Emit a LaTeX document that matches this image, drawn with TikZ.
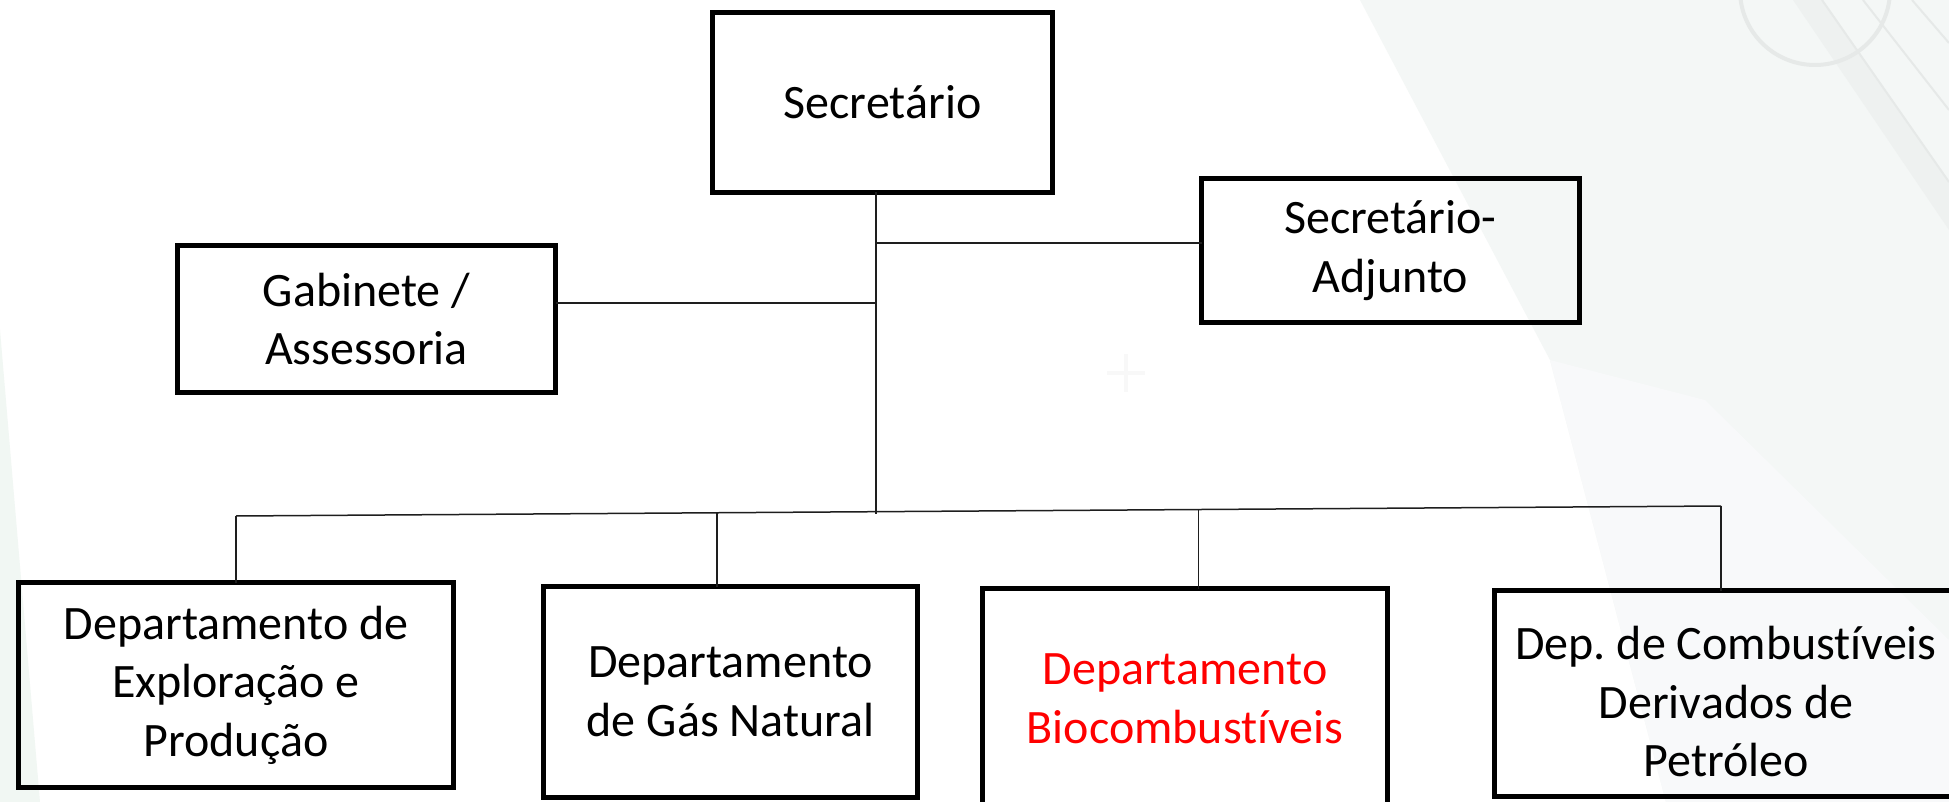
\documentclass[tikz,border=0pt]{standalone}
\usepackage{fontspec}
\setmainfont[Ligatures={NoCommon,NoContextual}]{Carlito}
\usetikzlibrary{calc}
\definecolor{tintA}{HTML}{F4F7F6}
\definecolor{tintB}{HTML}{F8F9FA}
\definecolor{tintG}{HTML}{F1F7F3}
\definecolor{decoline}{HTML}{E6E9E8}
\definecolor{band}{HTML}{EEF1F0}
\definecolor{plusc}{HTML}{F8F8F8}
\definecolor{conncol}{HTML}{1E1E1E}
\definecolor{redtext}{HTML}{FF0000}
\frenchspacing
\begin{document}
\begin{tikzpicture}[x=1pt,y=-1pt,
  box/.style={draw=black, line width=5.5pt, inner sep=0pt, outer sep=0pt, align=center,
    font=\fontsize{48}{58.5}\selectfont},
  label48/.style={inner sep=0pt, align=center, font=\fontsize{48}{58.5}\selectfont},
  conn/.style={draw=conncol, line width=1.5pt},
  deco/.style={draw=decoline, line width=2pt}]
\useasboundingbox (0,0) rectangle (1949,802);
% background
\begin{scope}
\clip (0,0) rectangle (1949,802);
\fill[white] (0,0) rectangle (1949,802);
\fill[tintA] (1360,0) -- (1949,0) -- (1949,802) -- (1666,802) -- (1550,360) -- cycle;
\fill[tintB] (1550,360) -- (1705,400) -- (1949,640) -- (1949,802) -- (1666,802) -- cycle;
\fill[tintG] (0,330) -- (40,802) -- (0,802) -- cycle;
\fill[band] (1793,0) -- (1822,0) -- (1949,182) -- (1949,230) -- cycle;
\draw[decoline, line width=4pt] (1815,-10) circle (75);
\draw[deco] (1822,0) -- (1949,182);
\draw[deco] (1863,0) -- (1949,110);
\draw[deco] (1912,0) -- (1949,43);
\draw[plusc, line width=4pt] (1107,373) -- (1145,373) (1126,354) -- (1126,392);
\end{scope}
% boxes
\node[box, minimum width=340pt, minimum height=180pt] (sec) at (882.5,102.5) {Secretário};
\node[box, minimum width=378pt, minimum height=144pt] (adj) at (1390.5,250.5) {Secretário-\\Adjunto};
\node[box, minimum width=378pt, minimum height=147pt] (gab) at (366.5,319) {Gabinete /\\Assessoria};
\node[box, minimum width=435pt, minimum height=205pt] (b1) at (236,685) {Departamento de\\Exploração e\\Produção};
\node[box, minimum width=374pt, minimum height=211pt] (b2) at (730.5,692) {Departamento\\de Gás Natural};
\node[box, minimum width=405pt, minimum height=221pt, text=redtext] (b3) at (1185,699) {Departamento\\Biocombustíveis};
\node[box, minimum width=473pt, minimum height=206pt] (b4) at (1731,693.5) {};
\node[label48] (b4t) at (1726,702) {Dep. de Combustíveis\\Derivados de\\Petróleo};
% connectors
\coordinate (hub) at (876,514);
\coordinate (ja) at (876,243);
\coordinate (jg) at (876,303);
\coordinate (busL) at (236,516);
\coordinate (busR) at (1721,506);
\coordinate (d2) at ($(busL)!0.324!(busR)$);
\coordinate (d3) at ($(busL)!0.648!(busR)$);
\draw[conn] (sec.south -| hub) -- (hub);
\draw[conn] (ja) -- (ja -| adj.west);
\draw[conn] (jg) -- (jg -| gab.east);
\draw[conn] (busL) -- (busR);
\draw[conn] (busL) -- (busL |- b1.north);
\draw[conn] (d2) -- (d2 |- b2.north);
\draw[conn] (d3) -- (d3 |- b3.north);
\draw[conn] (busR) -- (busR |- b4.north);
\end{tikzpicture}
\end{document}
